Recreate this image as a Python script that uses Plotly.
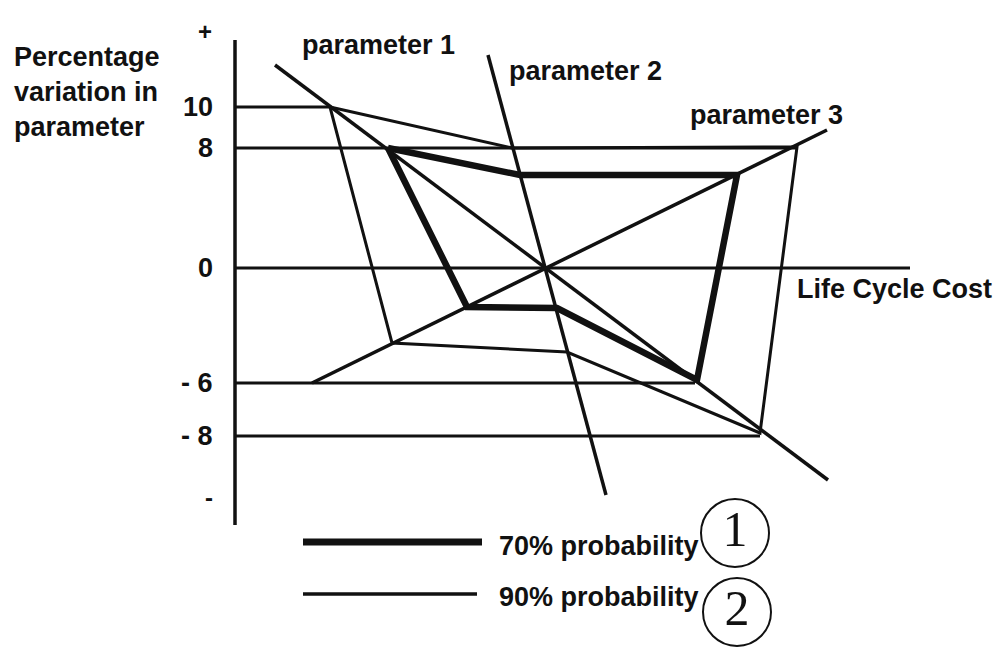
import plotly.graph_objects as go

# ---- data (schematic units: x = life-cycle-cost position, y = drawn variation position) ----
level_labels = ["10", "8", "0", "- 6", "- 8"]
level_pos = [161, 120, 0, -115, -168]
level_end = [95, 562, 675, 460, 525]

axis_top_label = "+"
axis_bottom_label = "-"
axis_span = [228, -257]

param_names = ["parameter 1", "parameter 2", "parameter 3"]
param_x0 = [40, 253, 77]
param_y0 = [203, 213, -115]
param_x1 = [593, 371, 592]
param_y1 = [-212, -227, 138]
param_label_x = [65, 272, 453]
param_label_y = [223, 197, 153]

# 90 % probability envelope (thin)
p90_x = [95, 277, 562, 525, 332, 157]
p90_y = [161, 120, 121, -165, -84, -75]
# 70 % probability envelope (thick)
p70_x = [153, 285, 502, 462, 322, 232]
p70_y = [120, 93, 93, -112, -40, -39]

legend_labels = ["70% probability", "90% probability"]
legend_marks = ["1", "2"]

INK = "#111111"
FONT = "Liberation Sans, Arial, sans-serif"

fig = go.Figure()

# vertical axis
fig.add_trace(go.Scatter(x=[0, 0], y=axis_span, mode="lines",
                         line=dict(color=INK, width=3.5), hoverinfo="skip"))

# level lines
for pos, end in zip(level_pos, level_end):
    fig.add_trace(go.Scatter(x=[0, end], y=[pos, pos], mode="lines",
                             line=dict(color=INK, width=3), hoverinfo="skip"))

# parameter lines
for x0, y0, x1, y1 in zip(param_x0, param_y0, param_x1, param_y1):
    fig.add_trace(go.Scatter(x=[x0, x1], y=[y0, y1], mode="lines",
                             line=dict(color=INK, width=3.5), hoverinfo="skip"))

# envelopes
fig.add_trace(go.Scatter(x=p90_x + p90_x[:1], y=p90_y + p90_y[:1], mode="lines",
                         line=dict(color=INK, width=3), hoverinfo="skip"))
fig.add_trace(go.Scatter(x=p70_x + p70_x[:1], y=p70_y + p70_y[:1], mode="lines",
                         line=dict(color=INK, width=6.5), hoverinfo="skip"))

# legend samples
legend_y = [-274, -326]
legend_w = [7, 3.5]
legend_x_end = [247, 242]
for ly, lw, xe in zip(legend_y, legend_w, legend_x_end):
    fig.add_trace(go.Scatter(x=[68, xe], y=[ly, ly], mode="lines",
                             line=dict(color=INK, width=lw), hoverinfo="skip"))

# circled numbers
circle_x = [500, 502]
circle_y = [-265, -344]
fig.add_trace(go.Scatter(x=circle_x, y=circle_y, mode="markers+text",
                         text=legend_marks, textposition="middle center",
                         textfont=dict(family="Liberation Serif, Times New Roman, serif",
                                       size=50, color=INK),
                         marker=dict(symbol="circle-open", size=68,
                                     line=dict(color=INK, width=2), color=INK),
                         hoverinfo="skip"))

ann = []
# axis labels
ann.append(dict(x=-223, y=176, text="<b>Percentage<br>variation in<br>parameter</b>",
                xanchor="left", yanchor="middle", align="left",
                font=dict(family=FONT, size=27, color=INK)))
for lab, pos in zip(level_labels, level_pos):
    ann.append(dict(x=-20, y=pos, text="<b>%s</b>" % lab, xanchor="right", yanchor="middle",
                    font=dict(family=FONT, size=27, color=INK)))
ann.append(dict(x=-30, y=237, text="<b>%s</b>" % axis_top_label, xanchor="center", yanchor="middle",
                font=dict(family=FONT, size=24, color=INK)))
ann.append(dict(x=-26, y=-229, text="<b>%s</b>" % axis_bottom_label, xanchor="center", yanchor="middle",
                font=dict(family=FONT, size=24, color=INK)))
for name, lx, ly in zip(param_names, param_label_x, param_label_y):
    ann.append(dict(x=lx, y=ly, text="<b>%s</b>" % name, xanchor="left", yanchor="middle",
                    font=dict(family=FONT, size=27, color=INK)))
ann.append(dict(x=560, y=-21, text="<b>Life Cycle Cost</b>", xanchor="left", yanchor="middle",
                font=dict(family=FONT, size=27, color=INK)))
for lab, ly in zip(legend_labels, [-278, -329]):
    ann.append(dict(x=262, y=ly, text="<b>%s</b>" % lab, xanchor="left", yanchor="middle",
                    font=dict(family=FONT, size=27, color=INK)))
for a in ann:
    a.update(showarrow=False, xref="x", yref="y")

fig.update_layout(
    width=997, height=648,
    margin=dict(l=0, r=0, t=0, b=0),
    paper_bgcolor="white", plot_bgcolor="white",
    showlegend=False,
    annotations=ann,
    xaxis=dict(range=[-235, 762], visible=False, fixedrange=True),
    yaxis=dict(range=[-380, 268], visible=False, fixedrange=True),
)

fig.write_html("out.html", config={"displayModeBar": False},
               post_script="document.body.style.margin='0';document.body.style.padding='0';")
